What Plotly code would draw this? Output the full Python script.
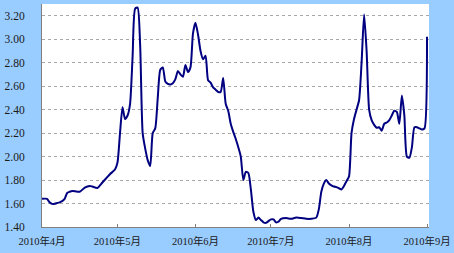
import plotly.graph_objects as go

dates = [
    "2010-04-01", "2010-04-03", "2010-04-04", "2010-04-05", "2010-04-06", "2010-04-07", "2010-04-08",
    "2010-04-09", "2010-04-10", "2010-04-11", "2010-04-12", "2010-04-13", "2010-04-16", "2010-04-18",
    "2010-04-20", "2010-04-21", "2010-04-23", "2010-04-25", "2010-04-27", "2010-04-28", "2010-04-30",
    "2010-05-01", "2010-05-02", "2010-05-03", "2010-05-04", "2010-05-05", "2010-05-06", "2010-05-07",
    "2010-05-08", "2010-05-09", "2010-05-10", "2010-05-11", "2010-05-12", "2010-05-13", "2010-05-14",
    "2010-05-15", "2010-05-16", "2010-05-17", "2010-05-18", "2010-05-19", "2010-05-20", "2010-05-21",
    "2010-05-22", "2010-05-23", "2010-05-24", "2010-05-25", "2010-05-26", "2010-05-27", "2010-05-28",
    "2010-05-29", "2010-05-30", "2010-05-31", "2010-06-01", "2010-06-02", "2010-06-03", "2010-06-04",
    "2010-06-05", "2010-06-06", "2010-06-07", "2010-06-08", "2010-06-09", "2010-06-10", "2010-06-11",
    "2010-06-12", "2010-06-13", "2010-06-14", "2010-06-15", "2010-06-16", "2010-06-17", "2010-06-18",
    "2010-06-19", "2010-06-20", "2010-06-21", "2010-06-22", "2010-06-23", "2010-06-24", "2010-06-25",
    "2010-06-26", "2010-06-27", "2010-06-28", "2010-06-29", "2010-06-30", "2010-07-01", "2010-07-02",
    "2010-07-03", "2010-07-04", "2010-07-05", "2010-07-07", "2010-07-09", "2010-07-11", "2010-07-13",
    "2010-07-15", "2010-07-17", "2010-07-19", "2010-07-20", "2010-07-21", "2010-07-22", "2010-07-23",
    "2010-07-24", "2010-07-25", "2010-07-26", "2010-07-27", "2010-07-28", "2010-07-29", "2010-07-30",
    "2010-07-31", "2010-08-01", "2010-08-02", "2010-08-03", "2010-08-04", "2010-08-05", "2010-08-06",
    "2010-08-07", "2010-08-08", "2010-08-09", "2010-08-10", "2010-08-11", "2010-08-12", "2010-08-13",
    "2010-08-14", "2010-08-15", "2010-08-16", "2010-08-17", "2010-08-18", "2010-08-19", "2010-08-20",
    "2010-08-21", "2010-08-22", "2010-08-23", "2010-08-24", "2010-08-25", "2010-08-26", "2010-08-27",
    "2010-08-28", "2010-08-29", "2010-08-30", "2010-08-31", "2010-09-01",
]

rates = [
    1.64, 1.64, 1.61, 1.597, 1.598, 1.604, 1.61,
    1.62, 1.64, 1.69, 1.70, 1.707, 1.70, 1.736,
    1.75, 1.745, 1.733, 1.779, 1.827, 1.85, 1.89,
    1.95, 2.20, 2.42, 2.32, 2.35, 2.45, 2.85,
    3.26, 3.27, 2.95, 2.20, 2.07, 1.97, 1.92,
    2.20, 2.24, 2.50, 2.74, 2.76, 2.64, 2.62,
    2.615, 2.625, 2.66, 2.73, 2.70, 2.68, 2.78,
    2.72, 2.76, 3.05, 3.14, 3.04, 2.90, 2.83,
    2.86, 2.65, 2.63, 2.59, 2.57, 2.55, 2.55,
    2.67, 2.45, 2.39, 2.28, 2.21, 2.15, 2.08,
    2.00, 1.80, 1.87, 1.86, 1.72, 1.53, 1.46,
    1.48, 1.46, 1.44, 1.435, 1.45, 1.465, 1.465,
    1.44, 1.445, 1.47, 1.476, 1.47, 1.48, 1.476,
    1.47, 1.47, 1.48, 1.55, 1.70, 1.77, 1.80,
    1.77, 1.755, 1.745, 1.74, 1.73, 1.72, 1.75,
    1.79, 1.83, 2.20, 2.32, 2.40, 2.48, 2.80,
    3.21, 2.90, 2.40, 2.31, 2.27, 2.245, 2.25,
    2.22, 2.28, 2.29, 2.31, 2.35, 2.39, 2.38,
    2.28, 2.52, 2.35, 2.00, 1.99, 2.08, 2.25,
    2.25, 2.24, 2.23, 2.24, 3.02,
]

month_ticks = ["2010-04-01", "2010-05-01", "2010-06-01", "2010-07-01", "2010-08-01", "2010-09-01"]
month_labels = ["2010年4月", "2010年5月", "2010年6月", "2010年7月", "2010年8月", "2010年9月"]
y_ticks = [1.40, 1.60, 1.80, 2.00, 2.20, 2.40, 2.60, 2.80, 3.00, 3.20]

font_fam = "Liberation Serif, Noto Sans CJK SC, serif"

fig = go.Figure()
fig.add_trace(go.Scatter(
    x=dates, y=rates, mode="lines",
    line=dict(color="#000080", width=2, shape="spline", smoothing=0.6),
    hoverinfo="skip", showlegend=False,
))

fig.update_layout(
    width=454, height=253,
    margin=dict(l=42, r=25, t=4, b=26),
    paper_bgcolor="#99CCFF",
    plot_bgcolor="#FFFFFF",
    font=dict(family=font_fam, size=11, color="#1a1a1a"),
    xaxis=dict(
        type="date",
        range=["2010-04-01", "2010-09-01 19:00"],
        tickvals=month_ticks, ticktext=month_labels,
        ticks="inside", ticklen=3, tickcolor="#808080",
        showgrid=False, zeroline=False,
        showline=True, linecolor="#808080", linewidth=1,
        tickfont=dict(family=font_fam, size=10.5, color="#1a1a1a"),
        ticklabelstandoff=4,
    ),
    yaxis=dict(
        range=[1.40, 3.30],
        tickvals=y_ticks, tickformat=".2f",
        ticks="", showgrid=True, gridcolor="#a8a8a8", griddash="dot", gridwidth=1,
        zeroline=False,
        showline=True, linecolor="#808080", linewidth=1,
        tickfont=dict(family=font_fam, size=11.5, color="#1a1a1a"),
        ticklabelstandoff=14,
    ),
)

fig.write_html("out.html")
